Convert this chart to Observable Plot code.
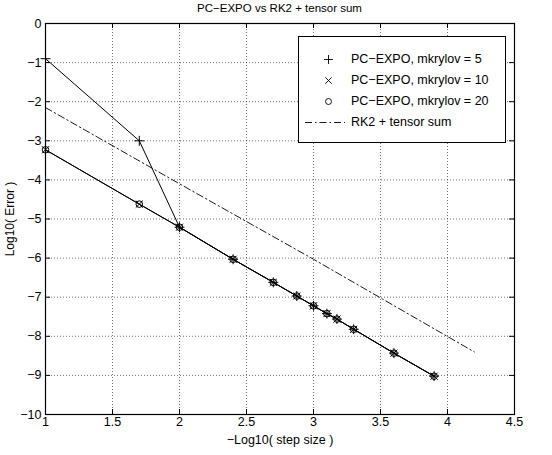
<!DOCTYPE html>
<html>
<head>
<meta charset="utf-8">
<script src="https://cdn.jsdelivr.net/npm/d3@7"></script>
<script src="https://cdn.jsdelivr.net/npm/@observablehq/plot@0.6"></script>
<style>
  html, body { margin: 0; padding: 0; background: #fff; }
  #wrap { position: relative; width: 552px; height: 455px; font-family: "Liberation Sans", Arial, sans-serif; }
  #title { position: absolute; left: 45px; width: 469px; top: 2px; text-align: center; font-size: 11.5px; color: #000; }
  #legend { position: absolute; left: 298px; top: 36px; width: 206px; height: 105px; border: 1px solid #000; background: #fff; font-size: 12.5px; }
  .row { position: absolute; left: 0; height: 20px; display: flex; align-items: center; }
  .row svg { display: block; }
  .row span { position: absolute; left: 52px; white-space: nowrap; }
</style>
</head>
<body>
<div id="wrap">
  <div id="chart"></div>
  <div id="title">PC−EXPO vs RK2 + tensor sum</div>
  <div id="legend"></div>
</div>
<script>
// data
const xs = [1, 1.7, 2, 2.4, 2.7, 2.875, 3, 3.1, 3.175, 3.3, 3.6, 3.9];
const mk5 = [-0.9, -3.0, -5.21, -6.03, -6.62, -6.97, -7.22, -7.42, -7.56, -7.82, -8.43, -9.02];
const mk10 = [-3.23, -4.62, -5.21, -6.03, -6.62, -6.97, -7.22, -7.42, -7.56, -7.82, -8.43, -9.02];
const mk20 = [-3.23, -4.62, -5.21, -6.03, -6.62, -6.97, -7.22, -7.42, -7.56, -7.82, -8.43, -9.02];
const rk2x = [1, 2, 3, 4.2];
const rk2y = [-2.15, -4.1, -6.03, -8.4];
const xTicks = [1, 1.5, 2, 2.5, 3, 3.5, 4, 4.5];
const yTicks = [0, -1, -2, -3, -4, -5, -6, -7, -8, -9, -10];
const seriesLabels = ["PC−EXPO, mkrylov = 5", "PC−EXPO, mkrylov = 10", "PC−EXPO, mkrylov = 20", "RK2 + tensor sum"];
const symbols = ["plus", "times", "circle"];

const series = [mk5, mk10, mk20].map((ys, i) => xs.map((x, j) => ({x, y: ys[j], s: seriesLabels[i]})));
const rk2 = rk2x.map((x, j) => ({x, y: rk2y[j]}));

const W = 552, H = 455, mt = 23, mb = 41, ml = 45, mr = 38;
const ph = H - mt - mb, pw = W - ml - mr;
const tk = 5;
const fmtX = d => String(d);
const fmtY = d => d < 0 ? "\u2212" + String(-d) : String(d);

const marks = [
  Plot.gridX(xTicks, {stroke: "#000", strokeOpacity: 0.55, strokeDasharray: "1,2"}),
  Plot.gridY(yTicks, {stroke: "#000", strokeOpacity: 0.55, strokeDasharray: "1,2"}),
  Plot.tickX(xTicks, {x: d => d, insetTop: ph - tk, stroke: "#000"}),
  Plot.tickX(xTicks, {x: d => d, insetBottom: ph - tk, stroke: "#000"}),
  Plot.tickY(yTicks, {y: d => d, insetRight: pw - tk, stroke: "#000"}),
  Plot.tickY(yTicks, {y: d => d, insetLeft: pw - tk, stroke: "#000"}),
  Plot.axisX(xTicks, {tickSize: 0, tickPadding: 3, fontSize: 12.5, tickFormat: fmtX, label: null}),
  Plot.axisX({ticks: [], tickSize: 0, fontSize: 12.5, label: "−Log10( step size )", labelAnchor: "center", labelArrow: false, labelOffset: 29}),
  Plot.axisY(yTicks, {tickSize: 0, tickPadding: 4, fontSize: 12.5, tickFormat: fmtY, label: null}),
  Plot.axisY({ticks: [], tickSize: 0, fontSize: 12, label: "Log10( Error )", labelAnchor: "center", labelArrow: false, labelOffset: 40}),
  Plot.line(rk2, {x: "x", y: "y", stroke: "#000", strokeWidth: 0.9, strokeDasharray: "7,3,1.5,3"}),
  ...series.map(d => Plot.line(d, {x: "x", y: "y", stroke: "#000", strokeWidth: 1})),
  ...series.map((d, i) => Plot.dot(d, {x: "x", y: "y", symbol: () => symbols[i], stroke: "#000", strokeWidth: 1, r: 3.3})),
  Plot.frame({stroke: "#000", strokeWidth: 1.2})
];

const chart = Plot.plot({
  width: W, height: H,
  marginTop: mt, marginBottom: mb, marginLeft: ml, marginRight: mr,
  style: {fontFamily: "'Liberation Sans', Arial, sans-serif", fontSize: "12.5px", color: "#000", background: "#fff"},
  x: {domain: [1, 4.5]},
  y: {domain: [-10, 0]},
  symbol: {domain: symbols, range: symbols},
  marks
});
document.getElementById("chart").appendChild(chart);

// legend
const leg = document.getElementById("legend");
seriesLabels.forEach((lab, i) => {
  const row = document.createElement("div");
  row.className = "row";
  row.style.top = (12 + i * 21) + "px";
  let svg;
  if (i < 3) {
    svg = Plot.plot({width: 50, height: 20, margin: 0, axis: null,
      x: {domain: [0, 1]}, y: {domain: [0, 1]},
      symbol: {domain: symbols, range: symbols},
      marks: [Plot.dot([{s: symbols[i]}], {x: () => 0.58, y: () => 0.5, symbol: "s", stroke: "#000", strokeWidth: 0.9, r: 3})]});
  } else {
    svg = Plot.plot({width: 50, height: 20, margin: 0, axis: null,
      x: {domain: [0, 1]}, y: {domain: [0, 1]},
      marks: [Plot.ruleY([0.5], {x1: 0.12, x2: 0.92, stroke: "#000", strokeWidth: 0.9, strokeDasharray: "7,3,1.5,3"})]});
  }
  row.appendChild(svg);
  const span = document.createElement("span");
  span.textContent = lab;
  row.appendChild(span);
  leg.appendChild(row);
});
</script>
</body>
</html>
